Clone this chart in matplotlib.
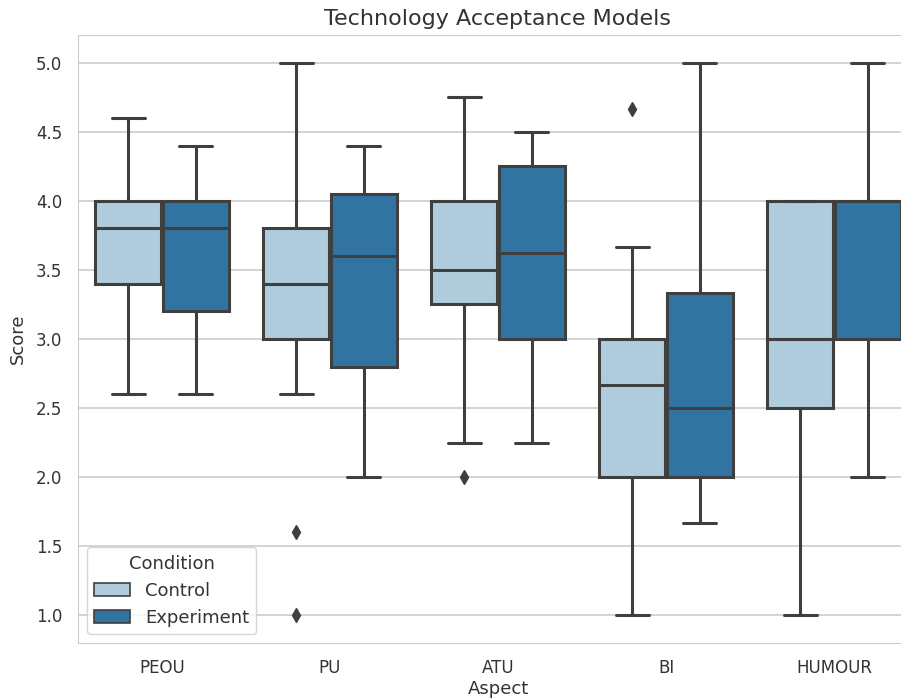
import matplotlib
matplotlib.use("Agg")
import matplotlib.pyplot as plt
import seaborn as sns
from matplotlib.patches import Patch

# box summary values (Control / Experiment per aspect)
aspects = ["PEOU", "PU", "ATU", "BI", "HUMOUR"]
conditions = ["Control", "Experiment"]

control_whislo = [2.6, 2.6, 2.25, 1.0, 1.0]
control_q1 = [3.4, 3.0, 3.25, 2.0, 2.5]
control_med = [3.8, 3.4, 3.5, 2.667, 3.0]
control_q3 = [4.0, 3.8, 4.0, 3.0, 4.0]
control_whishi = [4.6, 5.0, 4.75, 3.667, 4.0]
control_fliers = [[], [1.6, 1.0], [2.0], [4.667], []]

exp_whislo = [2.6, 2.0, 2.25, 1.667, 2.0]
exp_q1 = [3.2, 2.8, 3.0, 2.0, 3.0]
exp_med = [3.8, 3.6, 3.625, 2.5, 4.0]
exp_q3 = [4.0, 4.05, 4.25, 3.333, 4.0]
exp_whishi = [4.4, 4.4, 4.5, 5.0, 5.0]
exp_fliers = [[], [], [], [], []]

sns.set_style("whitegrid")

pal = sns.color_palette("Paired", 2)
box_colors = [sns.desaturate(c, 0.75) for c in pal]
gray = "#3f3f3f"
lw = 2.2

fig = plt.figure(figsize=(9.01, 6.99), dpi=100)
ax = fig.add_axes([78 / 901, 56 / 699, 840 / 901, 608 / 699])


def make_stats(lo, q1, med, q3, hi, fl):
    return [dict(whislo=a, q1=b, med=c, q3=d, whishi=e, fliers=f)
            for a, b, c, d, e, f in zip(lo, q1, med, q3, hi, fl)]


groups = [
    make_stats(control_whislo, control_q1, control_med, control_q3, control_whishi, control_fliers),
    make_stats(exp_whislo, exp_q1, exp_med, exp_q3, exp_whishi, exp_fliers),
]

width = 0.8 / 2
for j, stats in enumerate(groups):
    offset = -width / 2 + j * width
    pos = [i + offset for i in range(len(aspects))]
    ax.bxp(stats, positions=pos, widths=width * 0.98, patch_artist=True,
           boxprops=dict(facecolor=box_colors[j], edgecolor=gray, linewidth=lw),
           whiskerprops=dict(color=gray, linewidth=lw),
           capprops=dict(color=gray, linewidth=lw),
           medianprops=dict(color=gray, linewidth=lw),
           flierprops=dict(marker="d", markerfacecolor=gray, markeredgecolor=gray,
                           markersize=7, linestyle="none"),
           manage_ticks=False)

ax.set_xlim(-0.5, len(aspects) - 0.5)
ax.set_ylim(0.8, 5.2)
ax.set_xticks(range(len(aspects)))
ax.set_xticklabels(aspects)
ax.set_yticks([1.0, 1.5, 2.0, 2.5, 3.0, 3.5, 4.0, 4.5, 5.0])
ax.set_yticklabels(["1.0", "1.5", "2.0", "2.5", "3.0", "3.5", "4.0", "4.5", "5.0"])
ax.tick_params(labelsize=12, colors="#333333", pad=8)
ax.grid(axis="x", visible=False)
ax.grid(axis="y", color="#cccccc", linewidth=1.2)
ax.set_axisbelow(True)

ax.set_xlabel("Aspect", fontsize=13, color="#333333", labelpad=2)
ax.set_ylabel("Score", fontsize=13, color="#333333", labelpad=6)
ax.set_title("Technology Acceptance Models", fontsize=16, color="#333333", pad=7)

handles = [Patch(facecolor=box_colors[j], edgecolor=gray, linewidth=1.2, label=conditions[j])
           for j in range(2)]
leg = ax.legend(handles=handles, title="Condition", loc="lower left", fontsize=13,
                title_fontsize=13, frameon=True)
for t in leg.get_texts():
    t.set_color("#333333")
leg.get_title().set_color("#333333")

fig.savefig("out.png", dpi=100)
